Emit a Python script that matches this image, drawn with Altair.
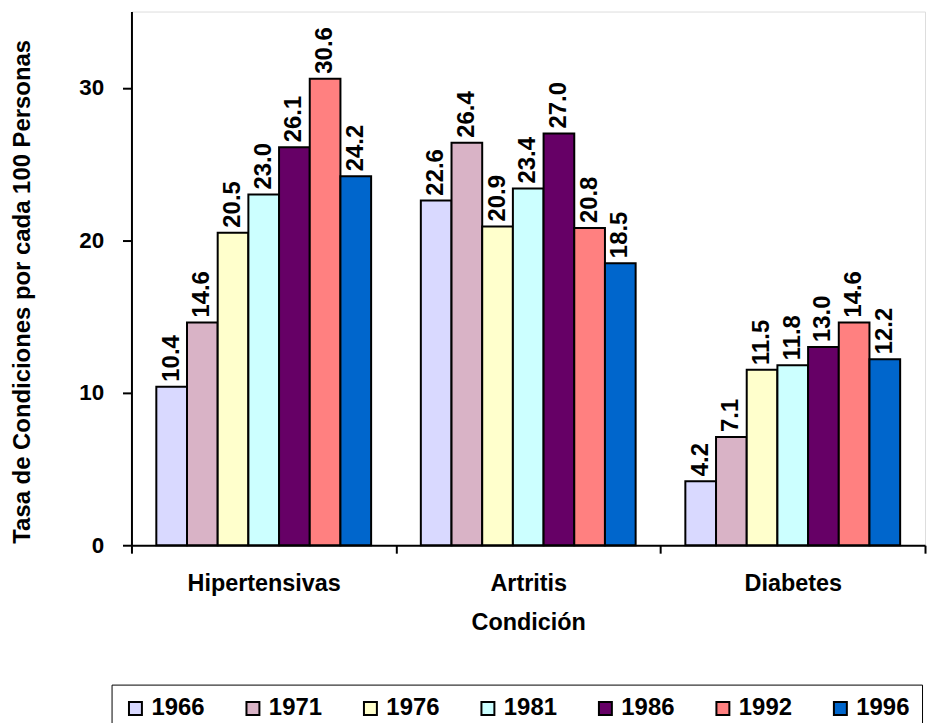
import altair as alt
import pandas as pd

conditions = ["Hipertensivas", "Artritis", "Diabetes"]
years = ["1966", "1971", "1976", "1981", "1986", "1992", "1996"]
hipertensivas = [10.4, 14.6, 20.5, 23.0, 26.1, 30.6, 24.2]
artritis = [22.6, 26.4, 20.9, 23.4, 27.0, 20.8, 18.5]
diabetes = [4.2, 7.1, 11.5, 11.8, 13.0, 14.6, 12.2]
colors = ["#D9D9FF", "#D9B3C6", "#FFFFCC", "#CCFFFF", "#660066", "#FF8080", "#0066CC"]
y_ticks = [0, 10, 20, 30]

rows = []
for cond, vals in zip(conditions, [hipertensivas, artritis, diabetes]):
    for yr, v in zip(years, vals):
        rows.append({"Condición": cond, "Año": yr, "Tasa": v})
df = pd.DataFrame(rows)

FONT = "Liberation Sans"

x = alt.X(
    "Condición:N",
    sort=conditions,
    scale=alt.Scale(paddingInner=0, paddingOuter=0),
    axis=alt.Axis(
        title="Condición",
        labelAngle=0,
        tickBand="extent",
        tickSize=8,
        tickWidth=2,
        tickColor="black",
        domainColor="black",
        domainWidth=2,
        labelFont=FONT,
        labelFontSize=23.5,
        labelFontWeight="bold",
        labelColor="black",
        labelPadding=18,
        titleFont=FONT,
        titleFontSize=23.5,
        titleFontWeight="bold",
        titleColor="black",
        titlePadding=16,
    ),
)
xo = alt.XOffset("Año:N", sort=years, scale=alt.Scale(paddingInner=0, paddingOuter=0.81))
y = alt.Y(
    "Tasa:Q",
    scale=alt.Scale(domain=[0, 35], nice=False),
    axis=alt.Axis(
        values=y_ticks,
        grid=False,
        title="Tasa de Condiciones por cada 100 Personas",
        tickSize=9,
        tickWidth=2,
        tickColor="black",
        domainColor="black",
        domainWidth=2,
        labelFont=FONT,
        labelFontSize=22.5,
        labelFontWeight="bold",
        labelColor="black",
        labelPadding=19,
        titleFont=FONT,
        titleFontSize=24,
        titleFontWeight="bold",
        titleColor="black",
        titleX=-97,
        titleY=281,
    ),
)

bars = alt.Chart(df).mark_bar(stroke="black", strokeWidth=2).encode(
    x=x,
    xOffset=xo,
    y=y,
    color=alt.Color(
        "Año:N",
        sort=years,
        scale=alt.Scale(domain=years, range=colors),
        legend=alt.Legend(
            title=None,
            orient="none",
            legendX=-20,
            legendY=676,
            direction="horizontal",
            columnPadding=36,
            symbolType="square",
            symbolSize=169,
            symbolStrokeColor="black",
            symbolStrokeWidth=2,
            symbolOpacity=1,
            labelFont=FONT,
            labelFontSize=24,
            labelFontWeight="bold",
            labelColor="black",
            labelOffset=4,
            strokeColor="black",
            padding=12,
        ),
    ),
)

labels = alt.Chart(df).mark_text(
    angle=270,
    align="left",
    baseline="middle",
    dx=5,
    font=FONT,
    fontSize=24,
    fontWeight="bold",
    color="black",
).encode(
    x=x,
    xOffset=xo,
    y=y,
    text=alt.Text("Tasa:Q", format=".1f"),
)

chart = (
    alt.layer(bars, labels)
    .properties(
        width=797,
        height=536,
        autosize=alt.AutoSizeParams(type="none"),
        padding={"left": 124, "top": 2, "right": 2, "bottom": 177},
    )
    .configure_view(stroke=None)
    .configure(background="white")
)

chart.save("out.html", embed_options={"renderer": "svg", "actions": False})
